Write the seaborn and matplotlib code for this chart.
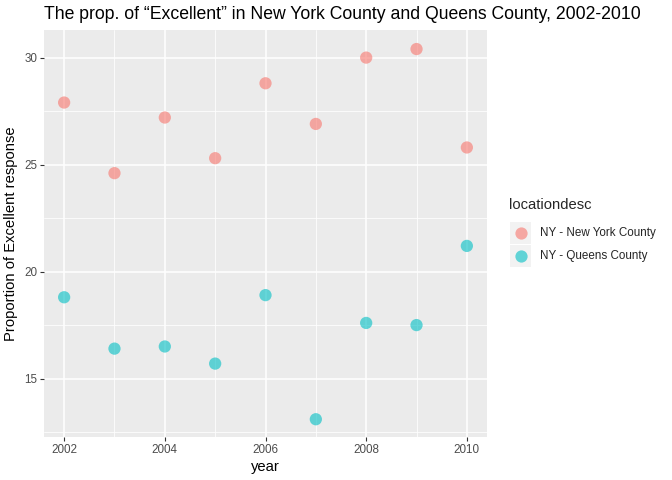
import matplotlib
matplotlib.use("Agg")
import matplotlib.pyplot as plt
from matplotlib.patches import Rectangle
from matplotlib.lines import Line2D
from matplotlib.ticker import MultipleLocator
import seaborn as sns
import pandas as pd

# data
years = [2002, 2003, 2004, 2005, 2006, 2007, 2008, 2009, 2010]
ny_county = [27.9, 24.6, 27.2, 25.3, 28.8, 26.9, 30.0, 30.4, 25.8]
queens_county = [18.8, 16.4, 16.5, 15.7, 18.9, 13.1, 17.6, 17.5, 21.2]
locations = ["NY - New York County", "NY - Queens County"]
colors = ["#F8766D", "#00BFC4"]

df = pd.DataFrame({
    "year": years * 2,
    "prop": ny_county + queens_county,
    "locationdesc": [locations[0]] * len(years) + [locations[1]] * len(years),
})

sns.set_style("darkgrid")
plt.rcParams["font.family"] = ["Liberation Sans", "DejaVu Sans"]

W, H = 672, 480
fig = plt.figure(figsize=(6.72, 4.8), dpi=100)
ax = fig.add_axes([44 / W, (H - 437) / H, (487 - 44) / W, (437 - 30) / H])
ax.set_facecolor("#EBEBEB")

sns.scatterplot(data=df, x="year", y="prop", hue="locationdesc",
                palette=dict(zip(locations, colors)), alpha=0.6, s=78,
                linewidth=0, legend=False, ax=ax, zorder=3)

ax.set_xlim(2001.6, 2010.4)
ax.set_ylim(12.27, 31.29)
ax.xaxis.set_major_locator(MultipleLocator(2))
ax.xaxis.set_minor_locator(MultipleLocator(1))
ax.yaxis.set_major_locator(MultipleLocator(5))
ax.yaxis.set_minor_locator(MultipleLocator(2.5))
ax.grid(which="major", color="white", linewidth=1.1)
ax.grid(which="minor", color="white", linewidth=0.55)
ax.set_axisbelow(True)
for s in ax.spines.values():
    s.set_visible(False)

ax.tick_params(axis="both", which="major", length=3, width=0.8, color="#333333",
               labelsize=8.4, labelcolor="#4D4D4D", pad=2, bottom=True, left=True)
ax.tick_params(axis="both", which="minor", length=0)

ax.set_xlabel("year", fontsize=10.6, color="black", labelpad=3)
ax.set_ylabel("Proportion of Excellent response", fontsize=10.6, color="black", labelpad=4)
ax.set_title("The prop. of \u201cExcellent\u201d in New York County and Queens County, 2002-2010",
             fontsize=12.7, color="black", loc="left", x=0, pad=8)

# legend drawn by hand, ggplot style
fig.text(509 / W, 1 - 205 / H, "locationdesc", fontsize=10.6, va="center", ha="left")
for i, (lab, col) in enumerate(zip(locations, colors)):
    cy = 233 + i * 23
    fig.patches.append(Rectangle((510 / W, 1 - (cy + 11) / H), 21 / W, 22 / H,
                                 transform=fig.transFigure, facecolor="#F2F2F2",
                                 edgecolor="none"))
    fig.lines.append(Line2D([520.5 / W], [1 - cy / H], transform=fig.transFigure,
                            marker="o", markersize=8.8, color=col, alpha=0.6,
                            markeredgewidth=0, linestyle="none"))
    fig.text(540 / W, 1 - cy / H, lab, fontsize=8.4, va="center", ha="left")

fig.savefig("out.png", dpi=100)
plt.close(fig)
